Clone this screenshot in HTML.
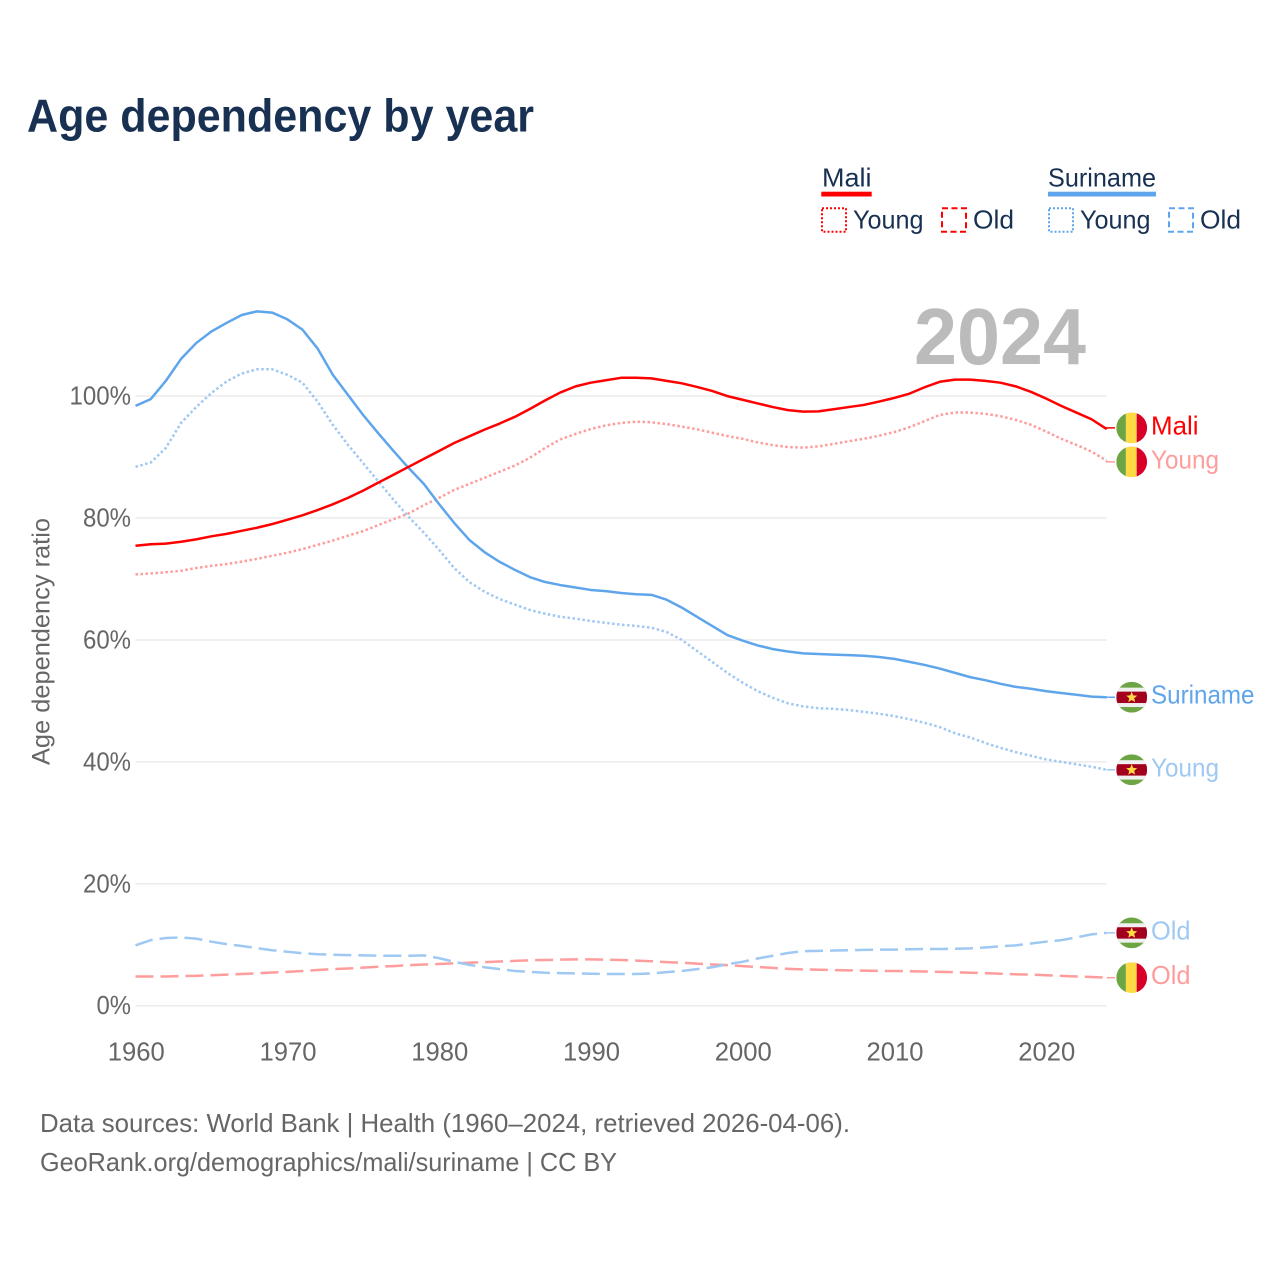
<!DOCTYPE html>
<html lang="en">
<head>
<meta charset="utf-8">
<title>Age dependency by year</title>
<style>
html,body{margin:0;padding:0;background:#fff;}
svg{display:block;font-family:"Liberation Sans",sans-serif;}
</style>
</head>
<body>
<svg id="chart" xmlns="http://www.w3.org/2000/svg" width="1280" height="1280" viewBox="0 0 1280 1280">
  <rect x="0" y="0" width="1280" height="1280" fill="#ffffff"/>
  <text x="27" y="131.5" font-size="46" font-weight="700" fill="#183152" textLength="507" lengthAdjust="spacingAndGlyphs">Age dependency by year</text>

  <g>
    <text x="822" y="186.5" font-size="26" fill="#183152" textLength="49.5" lengthAdjust="spacingAndGlyphs">Mali</text>
    <rect x="821.3" y="191.7" width="50.4" height="4.8" fill="#ff0000"/>
    <rect x="822" y="208.3" width="24" height="23.5" fill="none" stroke="#ff0000" stroke-width="2" stroke-dasharray="2 2"/>
    <text x="853" y="228.5" font-size="26" fill="#183152" textLength="70.5" lengthAdjust="spacingAndGlyphs">Young</text>
    <rect x="942" y="208.3" width="24" height="23.5" fill="none" stroke="#ff0000" stroke-width="2" stroke-dasharray="6 3.5"/>
    <text x="973" y="228.5" font-size="26" fill="#183152" textLength="41" lengthAdjust="spacingAndGlyphs">Old</text>

    <text x="1048" y="186.5" font-size="26" fill="#183152" textLength="108" lengthAdjust="spacingAndGlyphs">Suriname</text>
    <rect x="1048" y="191.7" width="108" height="4.8" fill="#5fa5ec"/>
    <rect x="1049" y="208.3" width="24" height="23.5" fill="none" stroke="#5fa5ec" stroke-width="2" stroke-dasharray="2 2"/>
    <text x="1080" y="228.5" font-size="26" fill="#183152" textLength="70.5" lengthAdjust="spacingAndGlyphs">Young</text>
    <rect x="1169" y="208.3" width="24" height="23.5" fill="none" stroke="#5fa5ec" stroke-width="2" stroke-dasharray="6 3.5"/>
    <text x="1200" y="228.5" font-size="26" fill="#183152" textLength="41" lengthAdjust="spacingAndGlyphs">Old</text>
  </g>

  <text transform="translate(49.5 641.5) rotate(-90)" text-anchor="middle" font-size="25" fill="#666666" textLength="247" lengthAdjust="spacingAndGlyphs">Age dependency ratio</text>

  <g id="grid"></g>
  <g id="yticks"></g>
  <g id="xticks"></g>

  <text x="914" y="364" font-size="80" font-weight="700" fill="#bbbbbb" textLength="172" lengthAdjust="spacingAndGlyphs">2024</text>

  <g id="series"></g>
  <g id="endlabels"></g>

  <text x="40" y="1132" font-size="26" fill="#666666" textLength="810" lengthAdjust="spacingAndGlyphs">Data sources: World Bank | Health (1960–2024, retrieved 2026-04-06).</text>
  <text x="40" y="1171" font-size="26" fill="#666666" textLength="577" lengthAdjust="spacingAndGlyphs">GeoRank.org/demographics/mali/suriname | CC BY</text>
</svg>
<script>
const firstYear = 1960;
const lastYear = 2024;
const xTickYears = [1960, 1970, 1980, 1990, 2000, 2010, 2020];
const yTickValues = [0, 20, 40, 60, 80, 100];

const maliTotal = [75.45,75.7,75.8,76.1,76.5,77.0,77.4,77.9,78.4,79.0,79.7,80.45,81.3,82.25,83.3,84.5,85.8,87.1,88.4,89.7,91.0,92.3,93.4,94.5,95.5,96.6,97.9,99.3,100.6,101.6,102.2,102.6,103.0,103.0,102.9,102.5,102.1,101.5,100.85,100.0,99.4,98.8,98.2,97.7,97.45,97.5,97.85,98.2,98.55,99.1,99.7,100.4,101.45,102.35,102.7,102.7,102.5,102.2,101.6,100.7,99.6,98.4,97.3,96.2,94.6];
const maliYoung = [70.75,70.9,71.1,71.35,71.8,72.15,72.45,72.85,73.3,73.8,74.3,74.9,75.6,76.3,77.1,77.85,78.85,79.8,80.75,82.1,83.3,84.6,85.6,86.6,87.6,88.6,89.9,91.5,92.9,93.8,94.6,95.2,95.6,95.8,95.7,95.4,95.0,94.55,94.0,93.45,93.0,92.4,91.95,91.65,91.55,91.75,92.15,92.6,93.0,93.5,94.1,94.9,95.9,96.9,97.3,97.3,97.1,96.7,96.1,95.3,94.2,93.0,92.0,90.9,89.4];
const maliOld = [4.8,4.8,4.8,4.85,4.9,5.0,5.1,5.2,5.3,5.45,5.55,5.7,5.85,6.0,6.1,6.25,6.4,6.5,6.65,6.75,6.85,6.95,7.05,7.15,7.25,7.35,7.45,7.5,7.55,7.6,7.6,7.55,7.5,7.4,7.3,7.15,7.05,6.9,6.75,6.65,6.5,6.35,6.2,6.05,5.95,5.9,5.85,5.8,5.75,5.7,5.7,5.65,5.6,5.55,5.5,5.4,5.35,5.25,5.15,5.1,5.0,4.9,4.8,4.7,4.6];
const surinameTotal = [98.4,99.5,102.5,106.1,108.7,110.6,112.0,113.3,113.9,113.7,112.6,110.9,107.8,103.5,100.2,96.9,93.9,91.0,88.2,85.6,82.3,79.2,76.4,74.4,72.8,71.5,70.3,69.5,69.0,68.6,68.2,68.0,67.7,67.5,67.4,66.6,65.3,63.8,62.3,60.8,59.9,59.1,58.5,58.1,57.8,57.7,57.6,57.5,57.4,57.2,56.9,56.4,55.9,55.3,54.6,53.9,53.4,52.8,52.3,52.0,51.6,51.3,51.0,50.7,50.6];
const surinameYoung = [88.4,89.1,91.5,95.6,98.2,100.5,102.4,103.7,104.4,104.4,103.5,102.2,99.1,95.3,92.0,89.0,86.0,83.0,80.2,77.6,74.8,71.8,69.5,67.9,66.7,65.8,64.9,64.3,63.8,63.5,63.1,62.8,62.5,62.3,62.0,61.3,60.0,58.2,56.4,54.6,53.0,51.6,50.5,49.6,49.1,48.8,48.7,48.5,48.2,47.9,47.5,47.0,46.4,45.7,44.7,44.0,43.1,42.3,41.6,41.0,40.4,40.0,39.6,39.2,38.7];
const surinameOld = [9.9,10.75,11.1,11.2,11.0,10.5,10.1,9.8,9.45,9.1,8.85,8.6,8.45,8.35,8.3,8.25,8.2,8.2,8.2,8.25,7.8,7.2,6.7,6.3,6.0,5.7,5.55,5.4,5.35,5.3,5.25,5.2,5.2,5.2,5.3,5.5,5.7,6.0,6.3,6.8,7.2,7.75,8.2,8.65,8.95,9.0,9.05,9.1,9.15,9.2,9.2,9.25,9.3,9.3,9.35,9.4,9.55,9.75,9.9,10.2,10.5,10.75,11.2,11.7,11.95];

const SVGNS = 'http://www.w3.org/2000/svg';
const PLOT = { left: 135.5, right: 1106.7, y0: 1005.7, y100: 396.1 };

function xScale(year) {
  return PLOT.left + (year - firstYear) * (PLOT.right - PLOT.left) / (lastYear - firstYear);
}
function yScale(value) {
  return PLOT.y0 - value * (PLOT.y0 - PLOT.y100) / 100;
}
function make(tag, attrs, parent) {
  const el = document.createElementNS(SVGNS, tag);
  for (const k in attrs) el.setAttribute(k, attrs[k]);
  parent.appendChild(el);
  return el;
}

const gridG = document.getElementById('grid');
const yTickG = document.getElementById('yticks');
const xTickG = document.getElementById('xticks');
const seriesG = document.getElementById('series');
const labelG = document.getElementById('endlabels');

function yTickWidth(v) {
  return v === 100 ? 61.5 : (v === 0 ? 34.5 : 48);
}

yTickValues.forEach(function (v) {
  const line = make('line', { x1: PLOT.left, x2: PLOT.right, y1: yScale(v), y2: yScale(v), stroke: '#ebebeb', 'stroke-width': 1.5 }, gridG);
  
  
  const t = make('text', { x: 131, y: yScale(v) + 8.5, 'text-anchor': 'end', 'font-size': 26, fill: '#666666', textLength: yTickWidth(v), lengthAdjust: 'spacingAndGlyphs' }, yTickG);
  t.textContent = v + '%';
  
  
});

xTickYears.forEach(function (year) {
  const t = make('text', { x: xScale(year) + 0.8, y: 1060.7, 'text-anchor': 'middle', 'font-size': 26, fill: '#666666', textLength: 57, lengthAdjust: 'spacingAndGlyphs' }, xTickG);
  t.textContent = String(year);
  
  
});

const RED = '#ff0000', RED_SOFT = '#ff9c9c', BLUE = '#5fa5ec', BLUE_SOFT = '#9fc8f3';
const seriesDefs = [
  { key: 'mali-old', values: maliOld, color: RED_SOFT, dash: '18 7', label: 'Old', labelWidth: 39.5, flag: 'mali' },
  { key: 'suriname-old', values: surinameOld, color: BLUE_SOFT, dash: '18 7', label: 'Old', labelWidth: 39.5, flag: 'suriname' },
  { key: 'mali-young', values: maliYoung, color: RED_SOFT, dash: '2.5 2.5', label: 'Young', labelWidth: 68, flag: 'mali' },
  { key: 'suriname-young', values: surinameYoung, color: BLUE_SOFT, dash: '2.5 2.5', label: 'Young', labelWidth: 68, flag: 'suriname' },
  { key: 'suriname-total', values: surinameTotal, color: BLUE, dash: '', label: 'Suriname', labelWidth: 103.5, flag: 'suriname' },
  { key: 'mali-total', values: maliTotal, color: RED, dash: '', label: 'Mali', labelWidth: 47.5, flag: 'mali' }
];

seriesDefs.forEach(function (s) {
  let d = '';
  s.values.forEach(function (v, i) {
    d += (i ? 'L' : 'M') + xScale(firstYear + i).toFixed(2) + ' ' + yScale(v).toFixed(2);
  });
  const attrs = { d: d, fill: 'none', stroke: s.color, 'stroke-width': 2.5, 'stroke-linejoin': 'round' };
  if (s.dash) attrs['stroke-dasharray'] = s.dash;
  const path = make('path', attrs, seriesG);
  
  
});

// Resolve end-label collisions: labels keep a minimum vertical gap.
const MIN_GAP = 34;
const placed = seriesDefs.map(function (s) {
  const endY = yScale(s.values[s.values.length - 1]);
  return { def: s, endY: endY, y: endY };
}).sort(function (a, b) { return a.y - b.y; });
for (let i = 1; i < placed.length; i++) {
  const gap = placed[i].y - placed[i - 1].y;
  if (gap < MIN_GAP) {
    const push = (MIN_GAP - gap) / 2;
    placed[i - 1].y -= push;
    placed[i].y += push;
  }
}

const FLAG_X = 1131.7, FLAG_R = 15.4;

function starPoints(cx, cy, r) {
  const pts = [];
  for (let i = 0; i < 10; i++) {
    const rad = i % 2 ? r * 0.45 : r;
    const a = -Math.PI / 2 + i * Math.PI / 5;
    pts.push((cx + rad * Math.cos(a)).toFixed(2) + ',' + (cy + rad * Math.sin(a)).toFixed(2));
  }
  return pts.join(' ');
}

function drawFlag(parent, type, cy, id) {
  const defs = make('defs', {}, parent);
  const clip = make('clipPath', { id: id }, defs);
  make('circle', { cx: FLAG_X, cy: cy, r: FLAG_R }, clip);
  const g = make('g', { 'clip-path': 'url(#' + id + ')' }, parent);
  
  
  const x0 = FLAG_X - FLAG_R, top = cy - FLAG_R, size = FLAG_R * 2;
  if (type === 'mali') {
    make('rect', { x: x0, y: top, width: 9.6, height: size, fill: '#6da544' }, g);
    make('rect', { x: x0 + 9.6, y: top, width: 10.8, height: size, fill: '#ffda44' }, g);
    make('rect', { x: x0 + 20.4, y: top, width: size - 20.4, height: size, fill: '#d80027' }, g);
  } else {
    make('rect', { x: x0, y: top, width: size, height: size, fill: '#6da544' }, g);
    make('rect', { x: x0, y: cy - 9.6, width: size, height: 19.4, fill: '#f0f0f0' }, g);
    make('rect', { x: x0, y: cy - 5.6, width: size, height: 11.4, fill: '#a2001d' }, g);
    make('polygon', { points: starPoints(FLAG_X, cy + 0.2, 5.8), fill: '#ffda44' }, g);
  }
}

placed.forEach(function (p, i) {
  const s = p.def;
  const endX = xScale(lastYear);
  const connector = make('path', { d: 'M' + endX + ' ' + p.endY + 'L' + endX + ' ' + p.y + 'L1115 ' + p.y, fill: 'none', stroke: s.color, 'stroke-width': 1.5 }, labelG);
  
  
  drawFlag(labelG, s.flag, p.y, 'flag-clip-' + i);
  const t = make('text', { x: 1151, y: p.y + 6.5, 'font-size': 26, fill: s.color, textLength: s.labelWidth, lengthAdjust: 'spacingAndGlyphs' }, labelG);
  t.textContent = s.label;
  
  
});
</script>
</body>
</html>
